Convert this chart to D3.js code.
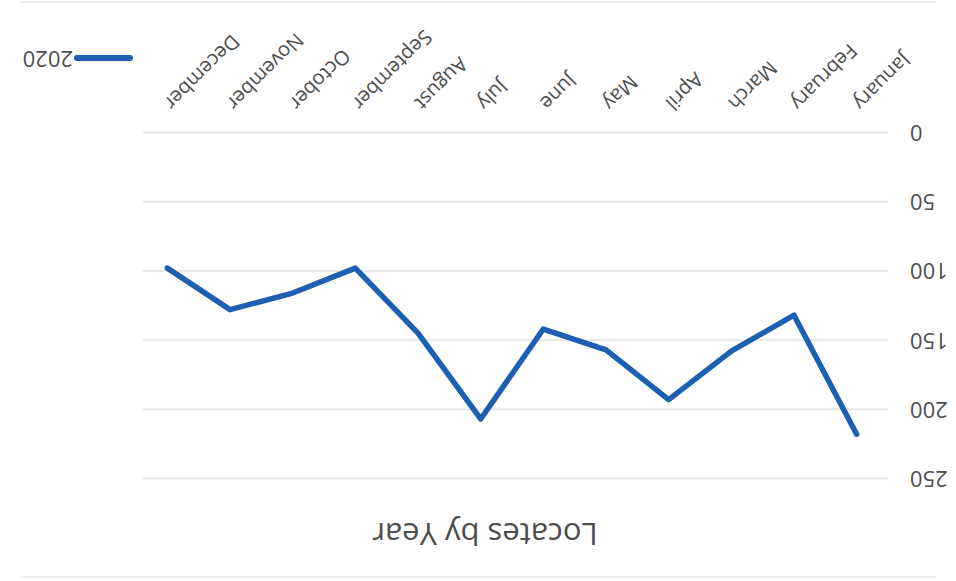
<!DOCTYPE html>
<html>
<head>
<meta charset="utf-8">
<script src="https://cdn.jsdelivr.net/npm/d3@7"></script>
<style>
  body { margin: 0; background: #fff; }
  text { font-family: "Open Sans", sans-serif; fill: #4d4d4d; }
</style>
</head>
<body>
<div id="vis"></div>
<script>
const MONTHS = ["January", "February", "March", "April", "May", "June",
                "July", "August", "September", "October", "November", "December"];
const SERIES_NAME = "2020";
const VALUES = [218, 132, 158, 193, 157, 142, 207, 145, 98, 116, 128, 98];
const Y_TICKS = [0, 50, 100, 150, 200, 250];
const TITLE = "Locates by Year";

const FRAME_WIDTH = 956;
const FRAME_HEIGHT = 581;
const LINE_COLOR = "#1d5fb0";
const TEXT_COLOR = "#4d4d4d";

const svg = d3.select("#vis")
  .append("svg")
    .attr("width", FRAME_WIDTH)
    .attr("height", FRAME_HEIGHT);

// the whole chart is photographed upside down, so draw it normally and turn it
const g = svg.append("g")
  .attr("transform", "rotate(180," + FRAME_WIDTH / 2 + "," + FRAME_HEIGHT / 2 + ")");

const X_SCALE = d3.scalePoint()
  .domain(MONTHS)
  .range([68, 820])
  .padding(0.5);

const Y_SCALE = d3.scaleLinear()
  .domain([0, 250])
  .range([448.5, 102.5]);

// faint chart border
g.selectAll(".border")
  .data([4, 579])
  .enter()
  .append("line")
    .attr("x1", 20).attr("x2", 936)
    .attr("y1", d => d).attr("y2", d => d)
    .attr("stroke", "#efefef")
    .attr("stroke-width", 2);

// gridlines
g.selectAll(".grid")
  .data(Y_TICKS)
  .enter()
  .append("line")
    .attr("x1", 68).attr("x2", 813)
    .attr("y1", d => Y_SCALE(d)).attr("y2", d => Y_SCALE(d))
    .attr("stroke", "#e9e9e9")
    .attr("stroke-width", 2);

// y axis labels
const yAxis = g.append("g")
  .attr("transform", "translate(46,0)")
  .call(d3.axisLeft(Y_SCALE).tickValues(Y_TICKS).tickSize(0).tickPadding(0));
yAxis.select(".domain").remove();
yAxis.selectAll("text")
  .attr("font-size", "22px")
  .attr("font-family", "Open Sans, sans-serif")
  .attr("fill", TEXT_COLOR);

// x axis labels, rotated
const xAxis = g.append("g")
  .attr("transform", "translate(0,448.5)")
  .call(d3.axisBottom(X_SCALE).tickSize(0).tickPadding(0));
xAxis.select(".domain").remove();
xAxis.selectAll("text")
  .attr("font-size", "20px")
  .attr("font-family", "Open Sans, sans-serif")
  .attr("fill", TEXT_COLOR)
  .attr("text-anchor", "end")
  .attr("dy", "0.35em")
  .attr("transform", "translate(-1,26) rotate(-45)");

// data line
const line = d3.line()
  .x((d, i) => X_SCALE(MONTHS[i]))
  .y(d => Y_SCALE(d));

g.append("path")
  .datum(VALUES)
  .attr("d", line)
  .attr("fill", "none")
  .attr("stroke", LINE_COLOR)
  .attr("stroke-width", 5.5)
  .attr("stroke-linejoin", "round")
  .attr("stroke-linecap", "round");

// title
g.append("text")
  .attr("x", 471)
  .attr("y", 58)
  .attr("text-anchor", "middle")
  .attr("font-size", "31px")
  .text(TITLE);

// legend
g.append("line")
  .attr("x1", 826).attr("x2", 879)
  .attr("y1", 523).attr("y2", 523)
  .attr("stroke", LINE_COLOR)
  .attr("stroke-width", 6)
  .attr("stroke-linecap", "round");

g.append("text")
  .attr("x", 883)
  .attr("y", 530)
  .attr("font-size", "22px")
  .text(SERIES_NAME);
</script>
</body>
</html>
